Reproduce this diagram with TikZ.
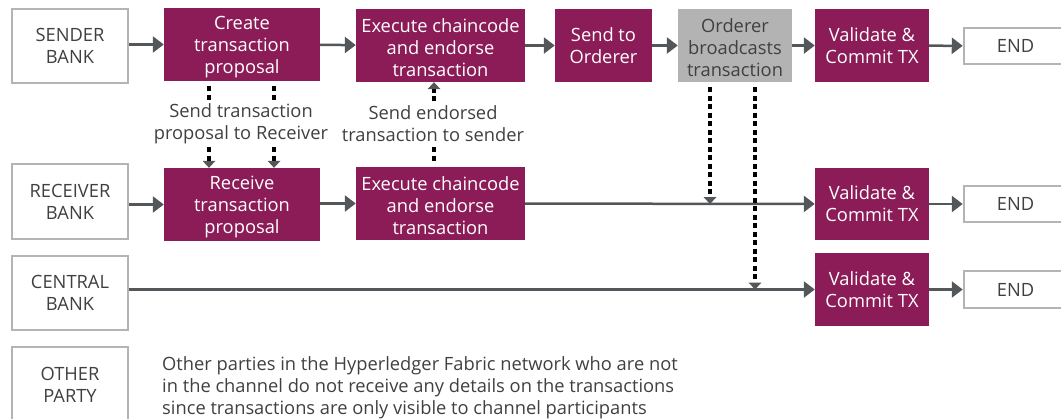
\documentclass[tikz,border=0pt]{standalone}
\usepackage{fontspec}
\setmainfont{Open Sans}
\usetikzlibrary{arrows.meta}
\definecolor{mag}{HTML}{8C1C57}
\definecolor{txtg}{HTML}{404040}
\definecolor{bord}{HTML}{B4B4B4}
\definecolor{gfill}{HTML}{B3B3B3}
\definecolor{arrc}{HTML}{53575A}
\newcommand{\ts}{\rule{0pt}{18.5pt}}
\newcommand{\tsl}{\rule{0pt}{17pt}}
\begin{document}
\begin{tikzpicture}[x=1pt,y=-1pt,
  every node/.style={inner sep=0pt, align=center, font=\fontsize{18.3}{22}\selectfont},
  wbox/.style={draw=bord, line width=2.5pt, fill=white, text=txtg},
  mbox/.style={fill=mag, text=white},
  gbox/.style={fill=gfill, text=txtg},
  arr/.style={draw=arrc, line width=2.5pt, -{Triangle[length=11pt,width=16pt]}},
  dots/.style={draw=black, line width=3.5pt, dash pattern=on 5pt off 3.5pt},
  dotarr/.style={dots, -{Triangle[length=7pt,width=13pt,color=arrc,line width=0pt]}},
  lbl/.style={text=txtg}
]
\useasboundingbox (0,0) rectangle (1061,418);
% row 1
\node[wbox, minimum width=116, minimum height=74] (sender) at (70,46) {SENDER\\BANK};
\node[mbox, minimum width=156, minimum height=73] (create) at (242,44.5) {\ts Create\\transaction\\proposal};
\node[mbox, minimum width=169, minimum height=73] (execA) at (440.5,45.5) {\ts Execute chaincode\\and endorse\\transaction};
\node[mbox, minimum width=97, minimum height=73] (send) at (603.5,45.5) {Send to\\Orderer};
\node[gbox, minimum width=114, minimum height=73] (orderer) at (735,45.5) {\ts Orderer\\broadcasts\\transaction};
\node[mbox, minimum width=114, minimum height=73] (valA) at (872,45.5) {Validate \&\\Commit TX};
\node[wbox, minimum width=103, minimum height=36, text width=101, align=center] (endA) at (1015.5,46) {END};
% row 2
\node[wbox, minimum width=116, minimum height=75] (receiver) at (70,201.5) {RECEIVER\\BANK};
\node[mbox, minimum width=156, minimum height=73] (receive) at (242,204.5) {\ts Receive\\transaction\\proposal};
\node[mbox, minimum width=169, minimum height=73] (execB) at (440.5,203.5) {\ts Execute chaincode\\and endorse\\transaction};
\node[mbox, minimum width=114, minimum height=72] (valB) at (872,204) {Validate \&\\Commit TX};
\node[wbox, minimum width=103, minimum height=36, text width=101, align=center] (endB) at (1015.5,204) {END};
% row 3
\node[wbox, minimum width=116, minimum height=74] (central) at (70,293) {CENTRAL\\BANK};
\node[mbox, minimum width=114, minimum height=73] (valC) at (872,289.5) {Validate \&\\Commit TX};
\node[wbox, minimum width=103, minimum height=37, text width=101, align=center] (endC) at (1015.5,289.5) {END};
% row 4
\node[wbox, minimum width=116, minimum height=76] (other) at (70,385) {OTHER\\PARTY};
\node[lbl, anchor=west, align=left] (note) at (162,385) {\ts Other parties in the Hyperledger Fabric network who are not\\in the channel do not receive any details on the transactions\\since transactions are only visible to channel participants};
% labels
\node[lbl] (lblA) at (241,122) {\tsl Send transaction\\proposal to Receiver};
\node[lbl] (lblB) at (433,122) {\tsl Send endorsed\\transaction to sender};
% arrows
\draw[arr] (sender.east |- create.west) -- (create.west);
\draw[arr] (create) -- (execA);
\draw[arr] (execA) -- (send);
\draw[arr] (send) -- (orderer);
\draw[arr] (orderer) -- (valA);
\draw[arr] (valA) -- (endA);
\draw[arr] (receiver.east |- receive.west) -- (receive.west);
\draw[arr] (receive.east |- execB.west) -- (execB.west);
\draw[arr] (execB) -- (valB);
\draw[arr] (valB) -- (endB);
\draw[arr] (central.east |- valC.west) -- (valC.west);
\draw[arr] (valC) -- (endC);
% dotted: create -> receive
\coordinate (d1a) at (209,86); \coordinate (d1b) at (209,101);
\coordinate (d2a) at (274,86); \coordinate (d2b) at (274,101);
\draw[dots] (d1a) -- (d1b);
\draw[dots] (d2a) -- (d2b);
\coordinate (d1c) at (209,147); \coordinate (d2c) at (274,147);
\draw[dotarr] (d1c) -- (d1c |- receive.north);
\draw[dotarr] (d2c) -- (d2c |- receive.north);
% dotted: execB -> execA
\coordinate (e1a) at (434,101);
\draw[dotarr] (e1a) -- (e1a |- execA.south);
\coordinate (e1b) at (434,147); \coordinate (e1c) at (434,164);
\draw[dots] (e1b) -- (e1c);
% orderer broadcasts
\coordinate (o1) at (710,87); \coordinate (o2) at (755,87);
\draw[dotarr] (o1) -- (o1 |- valB.west);
\draw[dotarr] (o2) -- (o2 |- valC.west);
\end{tikzpicture}
\end{document}
